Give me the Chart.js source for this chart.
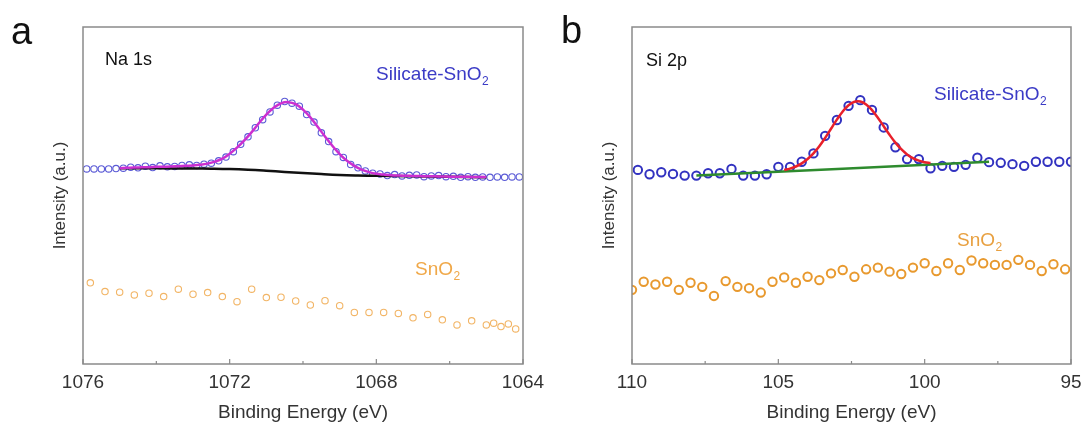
<!DOCTYPE html>
<html>
<head>
<meta charset="utf-8">
<script src="https://cdn.jsdelivr.net/npm/chart.js@4.4.1/dist/chart.umd.min.js"></script>
<style>
  body { margin: 0; background: #fff; width: 1085px; height: 428px; position: relative; overflow: hidden; }
  .panel { position: absolute; top: 0; height: 428px; }
  #panelA { left: 0; width: 560px; }
  #panelB { left: 540px; width: 545px; }
</style>
</head>
<body>
<div class="panel" id="panelA"><canvas id="naChart"></canvas></div>
<div class="panel" id="panelB"><canvas id="siChart"></canvas></div>
<script>
// ---- panel a : Na 1s ----
const naEnergy = [1075.9, 1075.7, 1075.5, 1075.3, 1075.1, 1074.9, 1074.7, 1074.5, 1074.3, 1074.1,
  1073.9, 1073.7, 1073.5, 1073.3, 1073.1, 1072.9, 1072.7, 1072.5, 1072.3, 1072.1,
  1071.9, 1071.7, 1071.5, 1071.3, 1071.1, 1070.9, 1070.7, 1070.5, 1070.3, 1070.1,
  1069.9, 1069.7, 1069.5, 1069.3, 1069.1, 1068.9, 1068.7, 1068.5, 1068.3, 1068.1,
  1067.9, 1067.7, 1067.5, 1067.3, 1067.1, 1066.9, 1066.7, 1066.5, 1066.3, 1066.1,
  1065.9, 1065.7, 1065.5, 1065.3, 1065.1, 1064.9, 1064.7, 1064.5, 1064.3, 1064.1];
const naSilicate = [57.9, 57.9, 57.9, 57.9, 58.0, 58.1, 58.4, 58.2, 58.7, 58.3,
  58.8, 58.5, 58.6, 58.9, 59.1, 58.9, 59.3, 59.6, 60.3, 61.4,
  63.0, 65.2, 67.4, 70.1, 72.5, 74.8, 76.8, 77.9, 77.4, 76.5,
  74.0, 71.8, 68.6, 66.0, 63.0, 61.3, 59.2, 58.2, 57.3, 56.6,
  56.4, 55.9, 56.2, 55.8, 56.0, 56.1, 55.6, 55.8, 55.9, 55.6,
  55.7, 55.4, 55.6, 55.4, 55.5, 55.4, 55.5, 55.4, 55.5, 55.5];

const naFitEnergy = [1075.0, 1074.8, 1074.6, 1074.4, 1074.2, 1074.0, 1073.8, 1073.6, 1073.4, 1073.2,
  1073.0, 1072.8, 1072.6, 1072.4, 1072.2, 1072.0, 1071.8, 1071.6, 1071.4, 1071.2,
  1071.0, 1070.8, 1070.6, 1070.4, 1070.2, 1070.0, 1069.8, 1069.6, 1069.4, 1069.2,
  1069.0, 1068.8, 1068.6, 1068.4, 1068.2, 1068.0, 1067.8, 1067.6, 1067.4, 1067.2,
  1067.0, 1066.8, 1066.6, 1066.4, 1066.2, 1066.0, 1065.8, 1065.6, 1065.4, 1065.2, 1065.0];
const naFit = [58.1, 58.2, 58.3, 58.35, 58.4, 58.5, 58.55, 58.6, 58.7, 58.8,
  58.9, 59.1, 59.45, 60.05, 60.95, 62.4, 64.2, 66.35, 68.8, 71.5,
  74.0, 76.05, 77.35, 77.7, 77.1, 75.5, 73.2, 70.4, 67.5, 64.75,
  62.3, 60.3, 58.8, 57.7, 56.95, 56.45, 56.2, 56.0, 55.9, 55.85,
  55.8, 55.75, 55.7, 55.68, 55.65, 55.6, 55.57, 55.55, 55.52, 55.5, 55.47];

const naBgEnergy = [1075, 1074, 1073, 1072.5, 1072, 1071.5, 1071, 1070.5, 1070, 1069.5, 1069, 1068.5, 1068, 1067, 1066, 1065];
const naBg = [58.1, 58.05, 58.0, 57.95, 57.85, 57.65, 57.35, 57.0, 56.65, 56.35, 56.1, 55.95, 55.85, 55.7, 55.55, 55.45];

const naRefEnergy = [1075.8, 1075.4, 1075.0, 1074.6, 1074.2, 1073.8, 1073.4, 1073.0, 1072.6, 1072.2,
  1071.8, 1071.4, 1071.0, 1070.6, 1070.2, 1069.8, 1069.4, 1069.0, 1068.6, 1068.2,
  1067.8, 1067.4, 1067.0, 1066.6, 1066.2, 1065.8, 1065.4, 1065.0, 1064.8, 1064.6, 1064.4, 1064.2];
const naSnO2 = [24.1, 21.5, 21.3, 20.5, 21.0, 20.0, 22.2, 20.7, 21.2, 20.0,
  18.5, 22.2, 19.7, 19.8, 18.7, 17.5, 18.8, 17.3, 15.3, 15.3,
  15.3, 15.0, 13.7, 14.7, 13.1, 11.6, 12.8, 11.6, 12.1, 11.1, 11.9, 10.4];

const naMajorTicks = [1076, 1072, 1068, 1064];
const naMinorTicks = [1074, 1070, 1066];

// ---- panel b : Si 2p ----
const siEnergy = [109.8, 109.4, 109.0, 108.6, 108.2, 107.8, 107.4, 107.0, 106.6, 106.2,
  105.8, 105.4, 105.0, 104.6, 104.2, 103.8, 103.4, 103.0, 102.6, 102.2,
  101.8, 101.4, 101.0, 100.6, 100.2, 99.8, 99.4, 99.0, 98.6, 98.2,
  97.8, 97.4, 97.0, 96.6, 96.2, 95.8, 95.4, 95.0];
const siSilicate = [57.6, 56.3, 56.9, 56.4, 55.9, 55.9, 56.6, 56.6, 57.9, 55.9,
  55.9, 56.3, 58.5, 58.5, 60.0, 62.5, 67.7, 72.4, 76.6, 78.3,
  75.4, 70.2, 64.3, 60.8, 60.8, 58.1, 58.8, 58.5, 59.1, 61.2,
  59.9, 59.7, 59.3, 58.8, 60.0, 60.0, 60.0, 60.0];

const siFitEnergy = [104.8, 104.6, 104.4, 104.2, 104.0, 103.8, 103.6, 103.4, 103.2, 103.0,
  102.8, 102.6, 102.4, 102.2, 102.0, 101.8, 101.6, 101.4, 101.2, 101.0,
  100.8, 100.6, 100.4, 100.2, 100.0, 99.8];
const siFit = [57.57, 57.99, 58.61, 59.53, 60.81, 62.5, 64.62, 67.1, 69.81, 72.52,
  74.94, 76.78, 77.81, 77.89, 77.03, 75.35, 73.09, 70.55, 68.0, 65.69,
  63.73, 62.2, 61.08, 60.33, 59.88, 59.62];

const siBgEnergy = [107.8, 97.8];
const siBg = [55.9, 60.0];

const siRefEnergy = [110.0, 109.6, 109.2, 108.8, 108.4, 108.0, 107.6, 107.2, 106.8, 106.4,
  106.0, 105.6, 105.2, 104.8, 104.4, 104.0, 103.6, 103.2, 102.8, 102.4,
  102.0, 101.6, 101.2, 100.8, 100.4, 100.0, 99.6, 99.2, 98.8, 98.4,
  98.0, 97.6, 97.2, 96.8, 96.4, 96.0, 95.6, 95.2];
const siSnO2 = [22.0, 24.4, 23.6, 24.4, 22.0, 24.1, 22.9, 20.2, 24.6, 22.9,
  22.5, 21.2, 24.4, 25.7, 24.1, 25.9, 24.9, 26.9, 27.9, 25.9,
  28.1, 28.6, 27.4, 26.7, 28.6, 29.9, 27.6, 29.9, 27.9, 30.7,
  29.9, 29.4, 29.4, 30.9, 29.4, 27.6, 29.6, 28.1];

const siMajorTicks = [110, 105, 100, 95];
const siMinorTicks = [107.5, 102.5, 97.5];

const FONT = '"Liberation Sans", Arial, sans-serif';

function pts(xs, ys) {
  return xs.map((x, i) => ({ x: x, y: ys[i] }));
}

// box, inward ticks and the in-plot labels
const frame = {
  id: 'frame',
  afterDraw(chart, args, opts) {
    const ctx = chart.ctx;
    const a = chart.chartArea;
    const xs = chart.scales.x;
    ctx.save();
    ctx.strokeStyle = '#8a8a8a';
    ctx.lineWidth = 1.5;
    ctx.strokeRect(a.left, a.top, a.right - a.left, a.bottom - a.top);
    ctx.lineWidth = 1.2;
    ctx.beginPath();
    opts.major.forEach(v => {
      const px = xs.getPixelForValue(v);
      ctx.moveTo(px, a.bottom); ctx.lineTo(px, a.bottom - 5);
    });
    opts.minor.forEach(v => {
      const px = xs.getPixelForValue(v);
      ctx.moveTo(px, a.bottom); ctx.lineTo(px, a.bottom - 3);
    });
    ctx.stroke();
    opts.labels.forEach(l => {
      ctx.fillStyle = l.color;
      ctx.font = l.size + 'px ' + FONT;
      ctx.textBaseline = 'alphabetic';
      ctx.fillText(l.text, l.x, l.y);
      if (l.sub) {
        const w = ctx.measureText(l.text).width;
        ctx.font = Math.round(l.size * 0.62) + 'px ' + FONT;
        ctx.fillText(l.sub, l.x + w + 0.5, l.y + l.size * 0.28);
      }
    });
    ctx.restore();
  }
};

function makeChart(id, p) {
  const ctx = document.getElementById(id).getContext('2d');
  return new Chart(ctx, {
    type: 'scatter',
    data: {
      datasets: [
        { data: pts(p.fitX, p.fitY), showLine: true, borderColor: p.fitColor, borderWidth: 2.5,
          pointRadius: 0, tension: 0.4, clip: 0 },
        { data: pts(p.bgX, p.bgY), showLine: true, borderColor: p.bgColor, borderWidth: 2.5,
          pointRadius: 0, tension: 0.4, clip: 0 },
        { data: pts(p.dataX, p.dataY), showLine: false, borderColor: p.dataColor, backgroundColor: 'rgba(0,0,0,0)',
          pointRadius: p.radius, pointBorderWidth: p.pointWidth, clip: 0 },
        { data: pts(p.refX, p.refY), showLine: false, borderColor: p.refColor, backgroundColor: 'rgba(0,0,0,0)',
          pointRadius: p.radius, pointBorderWidth: p.pointWidth, clip: 0 }
      ]
    },
    options: {
      responsive: true,
      maintainAspectRatio: false,
      animation: false,
      devicePixelRatio: 1,
      events: [],
      layout: { padding: { top: 27, right: p.padRight, left: 0, bottom: 0 } },
      scales: {
        x: {
          type: 'linear',
          reverse: true,
          min: p.xMin,
          max: p.xMax,
          afterFit: function(scale) {
            scale.height = 64;
            scale.paddingLeft = 0;
            scale.paddingRight = 0;
          },
          ticks: {
            stepSize: p.step, padding: 7, color: '#333', font: { family: FONT, size: 19 },
            callback: function(value) { return String(value); }
          },
          grid: { display: false, drawTicks: false },
          border: { display: false },
          title: { display: true, text: 'Binding Energy (eV)', color: '#333',
            font: { family: FONT, size: 19 }, padding: { top: 0, bottom: 4 } }
        },
        y: {
          min: 0,
          max: 100,
          afterFit: function(scale) {
            scale.width = p.yWidth;
            scale.paddingTop = 0;
            scale.paddingBottom = 0;
          },
          ticks: { display: false },
          grid: { display: false, drawTicks: false },
          border: { display: false },
          title: { display: true, text: 'Intensity (a.u.)', color: '#333',
            font: { family: FONT, size: 17 }, padding: { top: p.yTitlePad, bottom: 0 } }
        }
      },
      plugins: {
        legend: { display: false },
        tooltip: { enabled: false },
        frame: { major: p.major, minor: p.minor, labels: p.labels }
      }
    },
    plugins: [frame]
  });
}

makeChart('naChart', {
  dataX: naEnergy, dataY: naSilicate, dataColor: '#5a5ad6',
  fitX: naFitEnergy, fitY: naFit, fitColor: '#cc2fd0',
  bgX: naBgEnergy, bgY: naBg, bgColor: '#111111',
  refX: naRefEnergy, refY: naSnO2, refColor: '#f2b566',
  radius: 3.2, pointWidth: 1.1,
  xMin: 1064, xMax: 1076, step: 4,
  padRight: 37, yWidth: 83, yTitlePad: 50,
  major: naMajorTicks, minor: naMinorTicks,
  labels: [
    { text: 'a', x: 11, y: 44, size: 38, color: '#111' },
    { text: 'Na 1s', x: 105, y: 65, size: 18, color: '#111' },
    { text: 'Silicate-SnO', sub: '2', x: 376, y: 80, size: 19, color: '#3b3bc6' },
    { text: 'SnO', sub: '2', x: 415, y: 275, size: 19, color: '#f0a848' }
  ]
});

makeChart('siChart', {
  dataX: siEnergy, dataY: siSilicate, dataColor: '#3232c0',
  fitX: siFitEnergy, fitY: siFit, fitColor: '#e8202a',
  bgX: siBgEnergy, bgY: siBg, bgColor: '#2e8b2e',
  refX: siRefEnergy, refY: siSnO2, refColor: '#e8992e',
  radius: 4.2, pointWidth: 2,
  xMin: 95, xMax: 110, step: 5,
  padRight: 14, yWidth: 92, yTitlePad: 59,
  major: siMajorTicks, minor: siMinorTicks,
  labels: [
    { text: 'b', x: 21, y: 43, size: 38, color: '#111' },
    { text: 'Si 2p', x: 106, y: 66, size: 18, color: '#111' },
    { text: 'Silicate-SnO', sub: '2', x: 394, y: 100, size: 19, color: '#3b3bc6' },
    { text: 'SnO', sub: '2', x: 417, y: 246, size: 19, color: '#e8a040' }
  ]
});
</script>
</body>
</html>
